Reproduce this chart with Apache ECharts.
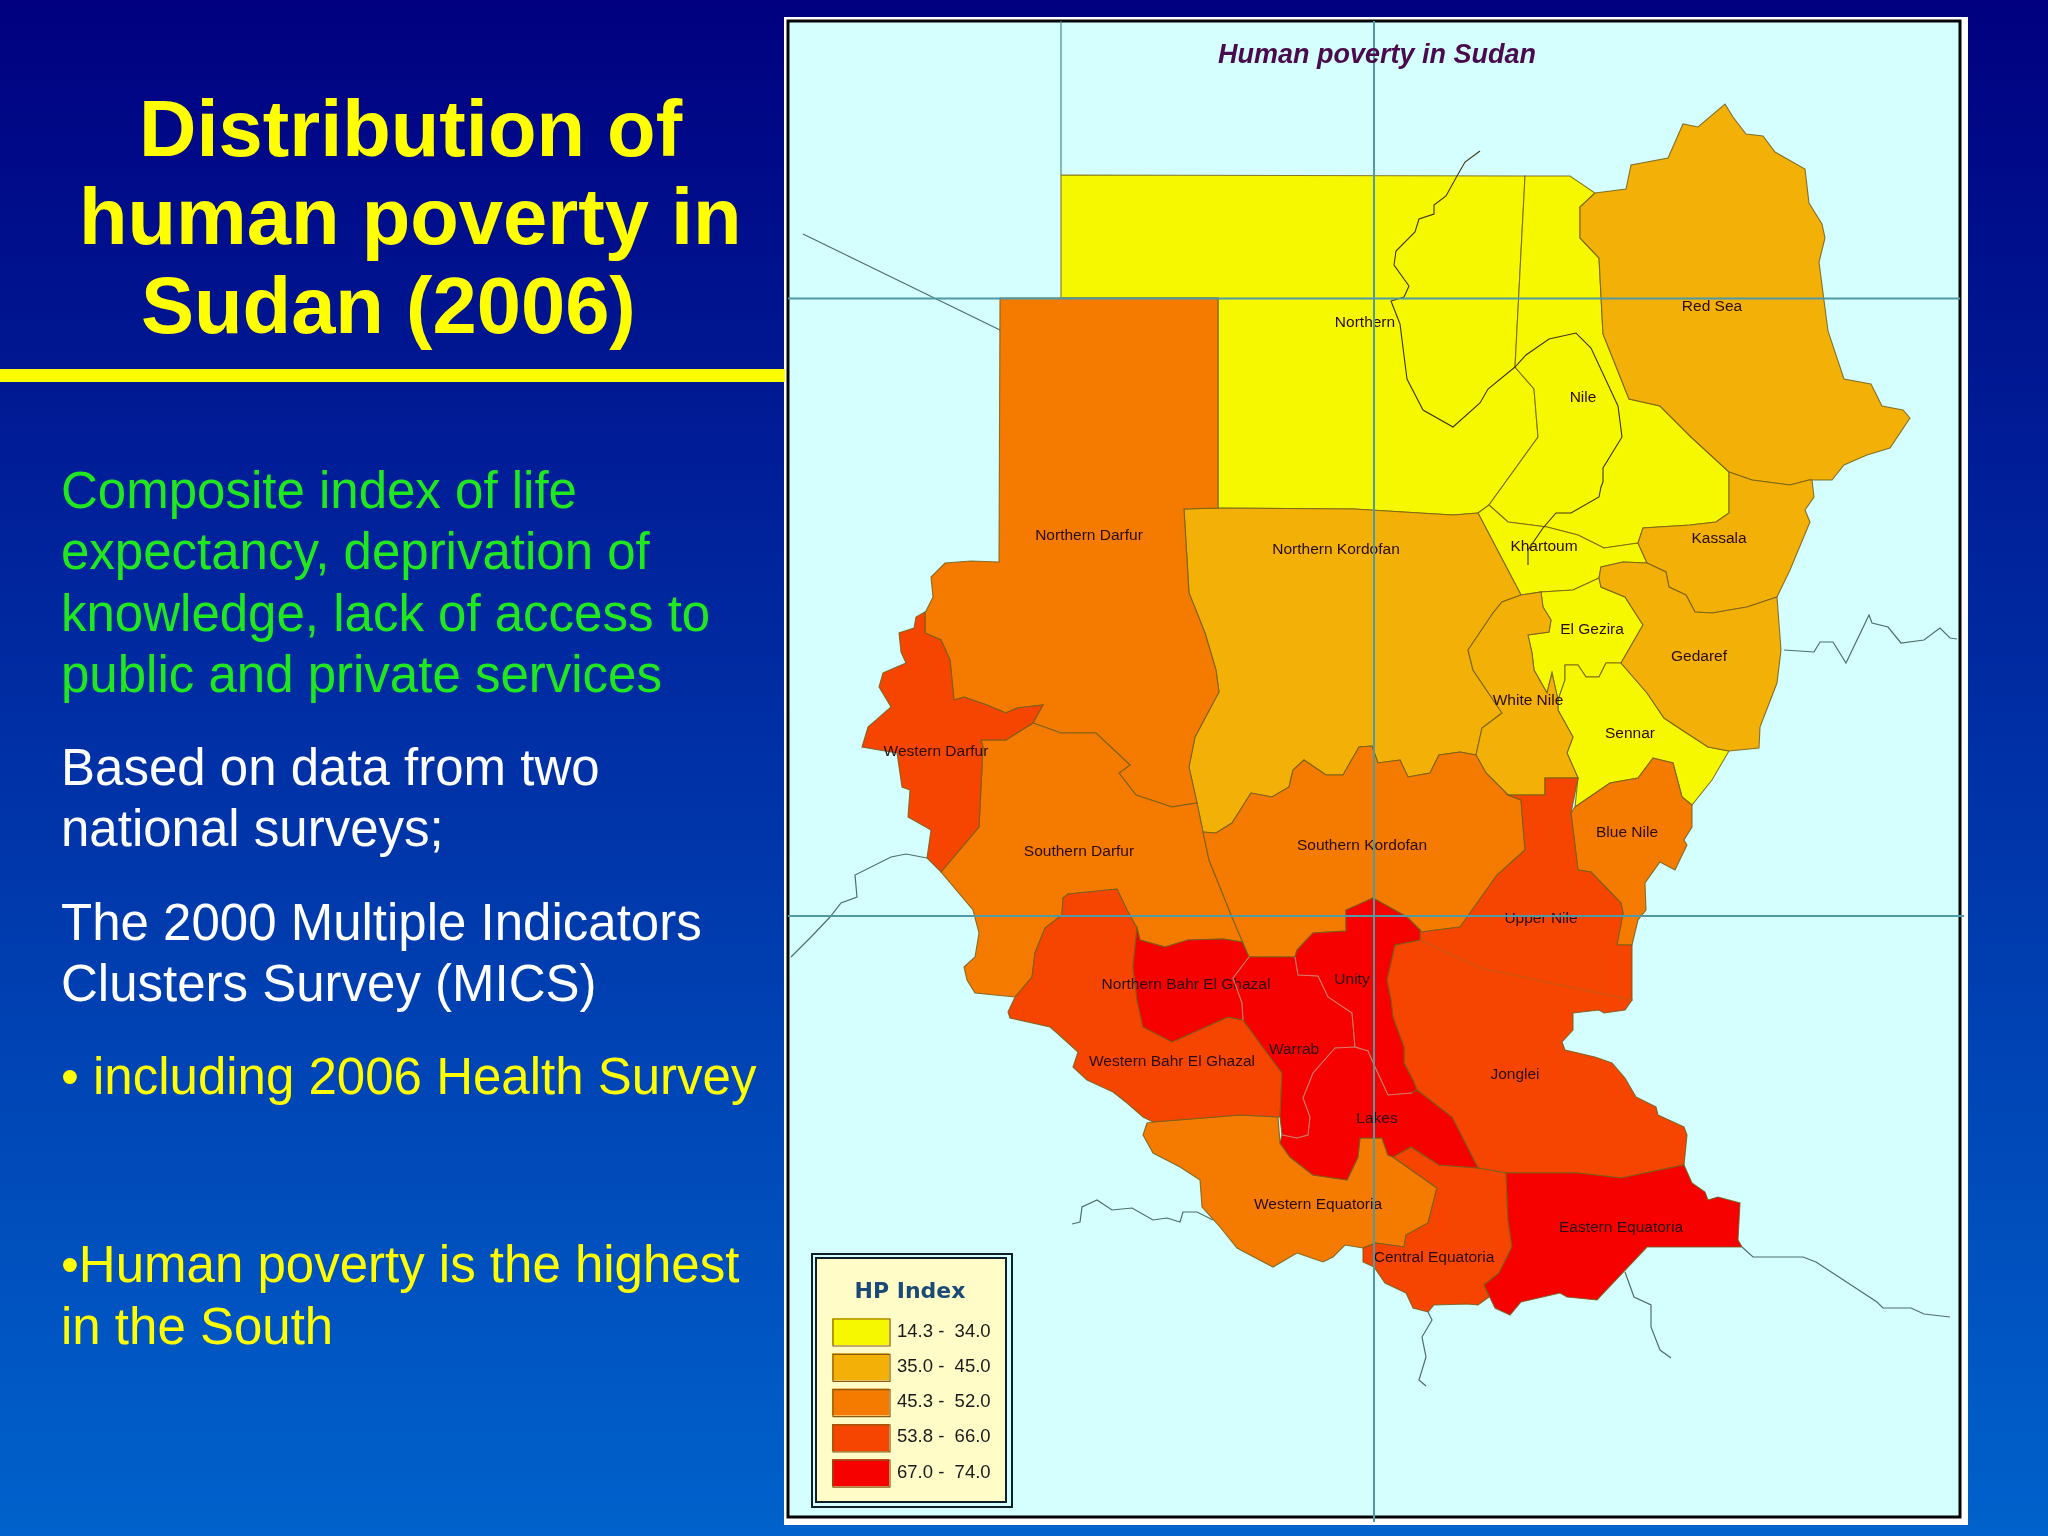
<!DOCTYPE html>
<html><head><meta charset="utf-8">
<style>html,body{margin:0;padding:0;background:#000}#c{width:2048px;height:1536px}</style>
<script src="https://cdn.jsdelivr.net/npm/echarts@6/dist/echarts.min.js"></script>
</head><body><div id="c"></div>
<script>
const stateNames = ['Northern','Nile','Khartoum','El Gezira','Sennar','Red Sea','Kassala','Gedaref','Northern Kordofan','White Nile','Northern Darfur','Southern Darfur','Southern Kordofan','Blue Nile','Western Equatoria','Western Darfur','Upper Nile','Jonglei','Central Equatoria','Western Bahr El Ghazal','Northern Bahr El Ghazal','Warrab','Unity','Lakes','Eastern Equatoria'];
const stateValues = [28,26,16,29,32,41,39,40,40,38,49,48,50,49,48,58,60,62,60,59,70,72,72,70,69];
const classLabels = ['14.3 -  34.0','35.0 -  45.0','45.3 -  52.0','53.8 -  66.0','67.0 -  74.0'];
const classMins = [14.3,35,45.3,53.8,67];
const classMaxs = [34,45,52,66,74];
const classColors = ['#f6f800','#f3b006','#f57a00','#f64500','#f60000'];

const outlines = {
'Northern':[[1061,175],[1525,176],[1515,367],[1534,389],[1538,437],[1489,505],[1478,513],[1453,515],[1354,509],[1218,508],[1218,298],[1061,298]],
'Nile':[[1525,176],[1570,176],[1595,193],[1580,207],[1580,238],[1599,258],[1603,334],[1629,399],[1660,406],[1691,437],[1729,472],[1729,513],[1716,522],[1690,525],[1643,528],[1638,543],[1604,548],[1578,535],[1547,527],[1508,522],[1489,505],[1538,437],[1534,389],[1515,367]],
'Khartoum':[[1478,513],[1489,505],[1508,522],[1547,527],[1578,535],[1604,548],[1638,543],[1647,563],[1623,562],[1601,567],[1599,578],[1573,590],[1541,592],[1521,595]],
'El Gezira':[[1541,592],[1573,590],[1599,578],[1601,587],[1625,597],[1643,625],[1621,663],[1606,663],[1599,677],[1586,677],[1578,665],[1565,665],[1565,680],[1558,700],[1552,673],[1547,693],[1534,670],[1532,653],[1528,635],[1549,632],[1551,620],[1543,607]],
'Sennar':[[1558,710],[1558,700],[1565,680],[1565,665],[1578,665],[1586,677],[1599,677],[1606,663],[1621,663],[1647,693],[1664,718],[1682,730],[1708,747],[1729,751],[1712,780],[1692,805],[1682,797],[1673,763],[1653,758],[1638,778],[1610,783],[1575,807],[1578,778],[1567,753],[1573,737]],
'Red Sea':[[1725,104],[1733,117],[1746,134],[1763,136],[1775,152],[1805,169],[1809,203],[1822,224],[1825,238],[1819,262],[1828,331],[1844,379],[1871,384],[1882,406],[1903,410],[1910,418],[1890,448],[1867,455],[1844,465],[1832,480],[1809,480],[1790,485],[1752,480],[1729,472],[1691,437],[1660,406],[1629,399],[1603,334],[1599,258],[1580,238],[1580,207],[1595,193],[1626,189],[1631,165],[1668,158],[1683,124],[1698,127]],
'Kassala':[[1729,472],[1752,480],[1790,485],[1809,480],[1812,480],[1814,497],[1805,510],[1810,522],[1790,570],[1777,597],[1747,607],[1712,613],[1695,612],[1686,595],[1669,587],[1666,572],[1647,563],[1638,543],[1643,528],[1690,525],[1716,522],[1729,513]],
'Gedaref':[[1601,567],[1623,562],[1647,563],[1666,572],[1669,587],[1686,595],[1695,612],[1712,613],[1747,607],[1777,597],[1781,650],[1777,683],[1760,727],[1759,748],[1729,751],[1708,747],[1682,730],[1664,718],[1647,693],[1621,663],[1643,625],[1625,597],[1601,587],[1599,578]],
'Northern Kordofan':[[1184,509],[1218,508],[1354,509],[1453,515],[1478,513],[1521,595],[1502,602],[1493,613],[1468,650],[1473,670],[1502,713],[1482,728],[1476,755],[1460,752],[1439,755],[1430,773],[1408,777],[1400,760],[1378,763],[1372,746],[1359,747],[1343,775],[1326,775],[1304,760],[1293,770],[1289,787],[1272,797],[1251,793],[1232,823],[1216,833],[1203,832],[1197,803],[1189,767],[1195,737],[1219,692],[1216,670],[1205,633],[1189,593]],
'White Nile':[[1521,595],[1541,592],[1543,607],[1551,620],[1549,632],[1528,635],[1532,653],[1534,670],[1547,693],[1552,673],[1558,700],[1558,710],[1573,737],[1567,753],[1578,778],[1545,778],[1545,795],[1508,795],[1486,773],[1476,755],[1482,728],[1502,713],[1473,670],[1468,650],[1493,613],[1502,602]],
'Northern Darfur':[[1000,298],[1218,298],[1218,508],[1184,509],[1189,593],[1205,633],[1216,670],[1219,692],[1195,737],[1189,767],[1197,803],[1172,807],[1136,795],[1119,773],[1130,765],[1096,733],[1061,733],[1033,723],[1043,705],[1017,708],[1006,713],[987,705],[964,697],[954,700],[950,660],[941,640],[925,633],[925,613],[933,597],[931,577],[945,563],[971,561],[999,562]],
'Southern Darfur':[[1033,723],[1061,733],[1096,733],[1130,765],[1119,773],[1136,795],[1172,807],[1197,803],[1203,832],[1209,860],[1232,917],[1249,957],[1242,942],[1223,939],[1188,940],[1165,947],[1140,940],[1137,928],[1127,910],[1117,889],[1068,894],[1063,898],[1062,915],[1045,928],[1035,953],[1032,977],[1015,997],[975,993],[967,980],[964,967],[975,957],[979,933],[973,910],[941,872],[979,827],[983,747],[981,740],[1006,740]],
'Southern Kordofan':[[1203,832],[1216,833],[1232,823],[1251,793],[1272,797],[1289,787],[1293,770],[1304,760],[1326,775],[1343,775],[1359,747],[1372,746],[1378,763],[1400,760],[1408,777],[1430,773],[1439,755],[1460,752],[1476,755],[1486,773],[1508,795],[1521,800],[1525,850],[1497,875],[1460,927],[1421,932],[1420,930],[1407,917],[1373,898],[1346,910],[1346,931],[1313,933],[1297,950],[1295,957],[1249,957],[1232,917],[1209,860]],
'Blue Nile':[[1575,807],[1610,783],[1638,778],[1653,758],[1673,763],[1682,797],[1692,805],[1692,827],[1684,840],[1687,845],[1675,870],[1660,862],[1645,883],[1646,910],[1638,920],[1632,945],[1617,945],[1623,913],[1621,903],[1591,872],[1578,870],[1571,813]],
'Western Equatoria':[[1147,1123],[1153,1122],[1240,1115],[1278,1117],[1280,1143],[1290,1157],[1313,1175],[1347,1180],[1358,1157],[1360,1138],[1382,1138],[1388,1155],[1393,1157],[1437,1188],[1428,1223],[1406,1235],[1404,1247],[1376,1243],[1363,1248],[1345,1245],[1333,1257],[1323,1262],[1297,1253],[1273,1267],[1250,1255],[1237,1248],[1220,1227],[1202,1207],[1200,1180],[1180,1167],[1153,1153],[1143,1135]],
'Western Darfur':[[925,612],[916,617],[914,628],[899,633],[901,652],[906,663],[883,673],[879,687],[891,707],[868,727],[862,747],[897,753],[902,787],[910,790],[908,817],[931,830],[927,858],[941,872],[979,827],[983,747],[981,740],[1006,740],[1033,723],[1043,705],[1017,708],[1006,713],[987,705],[964,697],[954,700],[950,660],[941,640],[925,633]],
'Upper Nile':[[1545,778],[1578,778],[1571,813],[1578,870],[1591,872],[1621,903],[1623,913],[1617,945],[1632,945],[1632,1000],[1560,985],[1480,968],[1420,940],[1420,930],[1421,932],[1460,927],[1497,875],[1525,850],[1521,800],[1508,795],[1545,795]],
'Jonglei':[[1395,945],[1420,940],[1480,968],[1560,985],[1632,1000],[1625,1010],[1604,1013],[1599,1010],[1573,1013],[1573,1030],[1562,1042],[1565,1050],[1595,1057],[1612,1063],[1625,1078],[1636,1097],[1656,1107],[1658,1115],[1684,1127],[1687,1135],[1684,1165],[1621,1178],[1578,1173],[1506,1173],[1478,1168],[1452,1117],[1417,1090],[1413,1080],[1404,1063],[1404,1047],[1393,1017],[1391,1000],[1387,980]],
'Central Equatoria':[[1393,1157],[1411,1147],[1439,1165],[1478,1168],[1506,1173],[1508,1220],[1512,1247],[1499,1273],[1484,1285],[1489,1297],[1478,1305],[1467,1304],[1434,1305],[1428,1312],[1413,1308],[1406,1293],[1385,1283],[1374,1267],[1363,1262],[1363,1248],[1376,1243],[1404,1247],[1406,1235],[1428,1223],[1437,1188]],
'Western Bahr El Ghazal':[[1063,898],[1068,894],[1117,889],[1127,910],[1137,928],[1133,967],[1137,1000],[1143,1027],[1172,1042],[1228,1017],[1243,1020],[1270,1057],[1282,1073],[1280,1117],[1240,1115],[1153,1122],[1143,1117],[1127,1103],[1113,1092],[1087,1080],[1073,1067],[1078,1052],[1057,1033],[1050,1027],[1010,1018],[1008,1012],[1015,997],[1032,977],[1035,953],[1045,928],[1062,915]],
'Northern Bahr El Ghazal':[[1137,928],[1140,940],[1165,947],[1188,940],[1223,939],[1242,942],[1249,957],[1233,978],[1242,1003],[1243,1020],[1228,1017],[1172,1042],[1143,1027],[1137,1000],[1133,967]],
'Warrab':[[1249,957],[1295,957],[1298,975],[1318,976],[1328,997],[1352,1013],[1355,1047],[1335,1048],[1313,1073],[1303,1098],[1310,1117],[1308,1135],[1297,1138],[1282,1135],[1280,1117],[1282,1073],[1270,1057],[1243,1020],[1242,1003],[1233,978]],
'Unity':[[1295,957],[1297,950],[1313,933],[1346,931],[1346,910],[1373,898],[1407,917],[1420,930],[1420,940],[1395,945],[1387,980],[1391,1000],[1393,1017],[1404,1047],[1404,1063],[1413,1080],[1417,1090],[1412,1093],[1388,1095],[1375,1067],[1368,1051],[1355,1047],[1352,1013],[1328,997],[1318,976],[1298,975]],
'Lakes':[[1335,1048],[1355,1047],[1368,1051],[1375,1067],[1388,1095],[1412,1093],[1417,1090],[1452,1117],[1478,1168],[1439,1165],[1411,1147],[1393,1157],[1388,1155],[1382,1138],[1360,1138],[1358,1157],[1347,1180],[1313,1175],[1290,1157],[1280,1143],[1282,1135],[1297,1138],[1308,1135],[1310,1117],[1303,1098],[1313,1073]],
'Eastern Equatoria':[[1506,1173],[1578,1173],[1621,1178],[1684,1165],[1692,1183],[1705,1192],[1708,1200],[1718,1197],[1740,1203],[1738,1240],[1742,1247],[1647,1247],[1597,1300],[1567,1297],[1560,1293],[1521,1302],[1510,1315],[1495,1308],[1484,1285],[1499,1273],[1512,1247],[1508,1220]]
};
const labelAnchors = {
'Northern':[1365,323],'Red Sea':[1712,307],'Nile':[1583,398],'Northern Darfur':[1089,536],'Northern Kordofan':[1336,550],'Khartoum':[1544,547],'Kassala':[1719,539],'El Gezira':[1592,630],'Gedaref':[1699,657],'White Nile':[1528,701],'Sennar':[1630,734],'Western Darfur':[936,752],'Blue Nile':[1627,833],'Southern Kordofan':[1362,846],'Southern Darfur':[1079,852],'Upper Nile':[1541,919],'Unity':[1352,980],'Northern Bahr El Ghazal':[1186,985],'Warrab':[1294,1050],'Western Bahr El Ghazal':[1172,1062],'Jonglei':[1515,1075],'Lakes':[1377,1119],'Western Equatoria':[1318,1205],'Eastern Equatoria':[1621,1228],'Central Equatoria':[1434,1258]
};
const riverNile = [[1480,151],[1465,162],[1457,176],[1446,196],[1434,205],[1434,214],[1419,219],[1415,232],[1396,251],[1394,265],[1409,286],[1404,297],[1391,301],[1400,324],[1407,379],[1423,410],[1453,427],[1480,403],[1488,389],[1515,367],[1526,355],[1549,339],[1576,333],[1591,348],[1618,406],[1622,437],[1603,468],[1603,482],[1601,487],[1599,497],[1571,513],[1556,513],[1543,528],[1528,550],[1528,565]];
const redInnerLines = [
 [[1249,957],[1233,978],[1242,1003],[1243,1020]],
 [[1295,957],[1298,975],[1318,976],[1328,997],[1352,1013],[1355,1047],[1368,1051],[1375,1067],[1388,1095],[1412,1093]],
 [[1355,1047],[1335,1048],[1313,1073],[1303,1098],[1310,1117],[1308,1135],[1297,1138],[1282,1135]]
];
const faintInnerLines = [
 [[1420,940],[1480,968],[1560,985],[1632,1000]]
];
const borderLines = [
 [[803,234],[1000,330]],
 [[927,858],[906,854],[891,857],[855,875],[857,897],[841,903],[830,917],[811,937],[791,957]],
 [[1784,650],[1814,652],[1820,642],[1833,642],[1846,663],[1869,615],[1872,623],[1888,627],[1901,643],[1924,640],[1940,628],[1950,638],[1957,639]],
 [[1742,1247],[1753,1257],[1803,1257],[1816,1262],[1877,1302],[1883,1308],[1911,1308],[1924,1314],[1950,1317]],
 [[1625,1272],[1634,1297],[1651,1305],[1651,1327],[1660,1350],[1671,1358]],
 [[1428,1312],[1432,1320],[1422,1337],[1426,1357],[1419,1380],[1426,1386]],
 [[1072,1224],[1080,1222],[1082,1207],[1097,1200],[1112,1210],[1132,1208],[1153,1220],[1167,1218],[1180,1222],[1183,1212],[1197,1212],[1213,1220]]
];
const gridLines = [
 [[788,298.5],[1960,298.5]],
 [[788,916],[1964,916]],
 [[1374,21],[1374,1522]]
];
const thinGrid = [[[1061,21],[1061,175]]];

const titleLines = ['Distribution of','human poverty in','Sudan (2006)'];
const titleX = [139,79,141];
const titleY = [94,182,271];
const bodyLines = [
 ['Composite index of life',494,'#1fe81f'],
 ['expectancy, deprivation of',555,'#1fe81f'],
 ['knowledge, lack of access to',617,'#1fe81f'],
 ['public and private services',678,'#1fe81f'],
 ['Based on data from two',771,'#ffffff'],
 ['national surveys;',832,'#ffffff'],
 ['The 2000 Multiple Indicators',926,'#ffffff'],
 ['Clusters Survey (MICS)',987,'#ffffff'],
 ['\u2022 including 2006 Health Survey',1080,'#ffff00'],
 ['\u2022Human poverty is the highest',1268,'#ffff00'],
 ['in the South',1330,'#ffff00']
];
const swatchTops = [1319,1354.3,1389.6,1424.9,1460.2];

const FONT = '"Liberation Sans", Arial, sans-serif';
const sudan = {type:'FeatureCollection',features:stateNames.map(n=>({
  type:'Feature',properties:{name:n,cp:labelAnchors[n]},
  geometry:{type:'Polygon',coordinates:[outlines[n].concat([outlines[n][0]])]}
}))};
echarts.registerMap('sudan',sudan);
const identity = {project:p=>[p[0],p[1]],unproject:p=>[p[0],p[1]]};
const chart = echarts.init(document.getElementById('c'),null,{width:2048,height:1536,renderer:'canvas'});

const graphics = [
 {type:'rect',z:-3,shape:{x:784,y:17,width:1184,height:1508},style:{fill:'#ffffff'}},
 {type:'rect',z:-3,z2:1,shape:{x:788,y:21,width:1172,height:1496},style:{fill:'#d5ffff',stroke:'#050505',lineWidth:3}},
 {type:'rect',z:-2,shape:{x:812,y:1254,width:200,height:253},style:{fill:'#d5ffff',stroke:'#10202a',lineWidth:2}},
 {type:'rect',z:-2,z2:1,shape:{x:816,y:1258,width:190,height:244},style:{fill:'#fffcc8',stroke:'#10202a',lineWidth:2}},
 {type:'rect',z:10,shape:{x:0,y:369,width:785,height:13},style:{fill:'#ffff00'}}
];
titleLines.forEach((t,i)=>graphics.push({type:'text',z:10,style:{text:t,x:titleX[i],y:titleY[i],fill:'#ffff00',font:'bold 79.5px '+FONT,textAlign:'left'}}));
bodyLines.forEach(b=>graphics.push({type:'text',z:10,style:{text:b[0],x:61,y:b[1],fill:b[2],font:'51px '+FONT,textAlign:'left',textVerticalAlign:'middle'}}));
swatchTops.forEach(y=>graphics.push({type:'rect',z:10,shape:{x:833,y:y,width:57,height:27},style:{fill:'transparent',stroke:'#8a5a10',lineWidth:1.2}}));

chart.setOption({
  animation:false,
  backgroundColor:{type:'linear',x:0,y:0,x2:0,y2:1,colorStops:[{offset:0,color:'#000080'},{offset:1,color:'#0062cc'}]},
  title:[
   {text:'Human poverty in Sudan',left:1372,top:51,textAlign:'center',textVerticalAlign:'middle',textStyle:{fontFamily:FONT,fontSize:27,fontWeight:'bold',fontStyle:'italic',color:'#4a0a4e'}},
   {text:'HP Index',left:905,top:1287,textAlign:'center',textVerticalAlign:'middle',textStyle:{fontFamily:'"DejaVu Sans", sans-serif',fontSize:22,fontWeight:'bold',color:'#1b4a78'}}
  ],
  graphic:graphics,
  tooltip:{show:false},
  geo:{map:'sudan',projection:identity,boundingCoords:[[0,0],[2048,1536]],left:0,top:0,width:2048,height:1536,roam:false,silent:true,
    itemStyle:{borderColor:'rgba(115,95,25,0.85)',borderWidth:1.1,areaColor:'#f57a00'},
    label:{show:true,color:'#2a0c10',fontFamily:FONT,fontSize:15.5},
    emphasis:{disabled:true}
  },
  visualMap:{type:'piecewise',seriesIndex:0,left:817,top:1303,orient:'vertical',inverse:true,align:'left',selectedMode:false,hoverLink:false,
    itemWidth:57,itemHeight:27,itemGap:8.3,textGap:8,itemSymbol:'rect',
    textStyle:{color:'#1a1a1a',fontFamily:FONT,fontSize:18.5},
    pieces:classLabels.map((l,i)=>({min:classMins[i],max:classMaxs[i],label:l,color:classColors[i]}))
  },
  series:[
   {type:'map',geoIndex:0,silent:true,data:stateNames.map((n,i)=>({name:n,value:stateValues[i]}))},
   {type:'lines',coordinateSystem:'geo',polyline:true,silent:true,z:3,data:[{coords:riverNile}],lineStyle:{color:'#3f3410',width:1.1,opacity:1}},
   {type:'lines',coordinateSystem:'geo',polyline:true,silent:true,z:3,data:borderLines.map(c=>({coords:c})),lineStyle:{color:'#4f6f6a',width:1.2,opacity:1}},
   {type:'lines',coordinateSystem:'geo',polyline:true,silent:true,z:3,data:redInnerLines.map(c=>({coords:c})),lineStyle:{color:'#f46a6a',width:1.1,opacity:1}},
   {type:'lines',coordinateSystem:'geo',polyline:true,silent:true,z:3,data:faintInnerLines.map(c=>({coords:c})),lineStyle:{color:'#dc520c',width:1.6,opacity:1}},
   {type:'lines',coordinateSystem:'geo',polyline:true,silent:true,z:4,data:gridLines.map(c=>({coords:c})),lineStyle:{color:'#4f9aa4',width:2,opacity:1}},
   {type:'lines',coordinateSystem:'geo',polyline:true,silent:true,z:4,data:thinGrid.map(c=>({coords:c})),lineStyle:{color:'#4f8a78',width:1.2,opacity:1}}
  ]
});
</script></body></html>
